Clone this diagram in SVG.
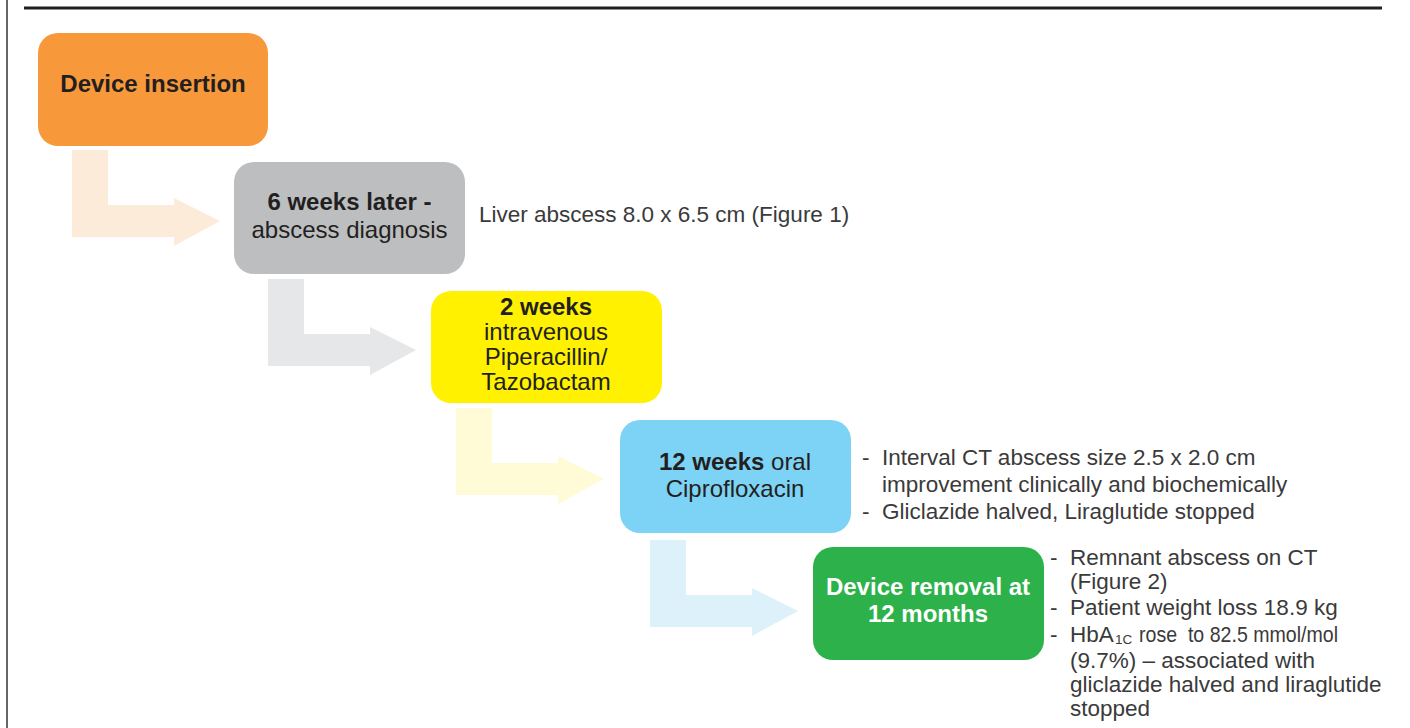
<svg xmlns="http://www.w3.org/2000/svg" xmlns:xlink="http://www.w3.org/1999/xlink" width="1410" height="728" viewBox="0 0 1410 728">
<style>
.node-t{font-family:"Liberation Sans",Arial,sans-serif;font-size:24px;fill:#231F20;text-anchor:middle}
.b{font-weight:bold}
.side{font-family:"Liberation Sans",Arial,sans-serif;font-size:22.5px;fill:#3a3a3a}
.sub{font-family:"Liberation Sans",Arial,sans-serif;font-size:13.5px;fill:#3a3a3a}
</style>
<defs>
<path id="arr" d="M0,0 H36 V55 H102 V48 L148,71 L102,96 V87 H0 Z"/>
</defs>
<rect width="1410" height="728" fill="#ffffff"/>
<line x1="7" y1="0" x2="7" y2="728" stroke="#666666" stroke-width="2"/>
<line x1="24" y1="8" x2="1382" y2="8" stroke="#231F20" stroke-width="3"/>
<g id="connectors">
<use xlink:href="#arr" href="#arr" transform="translate(72,150)" fill="#FDEBD9"/>
<use xlink:href="#arr" href="#arr" transform="translate(268,279)" fill="#E6E7E8"/>
<use xlink:href="#arr" href="#arr" transform="translate(456,408)" fill="#FFFBD6"/>
<use xlink:href="#arr" href="#arr" transform="translate(650,540)" fill="#DDF1FA"/>
</g>
<g id="node-insertion">
<rect x="38" y="33" width="230" height="113" rx="20" fill="#F7993A"/>
<text class="node-t b" x="153" y="92">Device insertion</text>
</g>
<g id="node-diagnosis">
<rect x="234" y="162" width="231" height="112" rx="20" fill="#BCBEC0"/>
<text class="node-t b" x="349.5" y="210">6 weeks later -</text>
<text class="node-t" x="349.5" y="238">abscess diagnosis</text>
</g>
<g id="note-diagnosis">
<text class="side" x="479" y="222">Liver abscess 8.0 x 6.5 cm (Figure 1)</text>
</g>
<g id="node-iv">
<rect x="431" y="291" width="231" height="112" rx="20" fill="#FFF100"/>
<text class="node-t b" x="546" y="315">2 weeks</text>
<text class="node-t" x="546" y="340">intravenous</text>
<text class="node-t" x="546" y="365">Piperacillin/</text>
<text class="node-t" x="546" y="390">Tazobactam</text>
</g>
<g id="node-oral">
<rect x="620" y="420" width="231" height="113" rx="20" fill="#7DD3F5"/>
<text class="node-t" x="735" y="470"><tspan class="b">12 weeks</tspan> oral</text>
<text class="node-t" x="735" y="497">Ciprofloxacin</text>
</g>
<g id="note-oral">
<text class="side" x="862" y="465">-</text>
<text class="side" x="882" y="465">Interval CT abscess size 2.5 x 2.0 cm</text>
<text class="side" x="882" y="492">improvement clinically and biochemically</text>
<text class="side" x="862" y="519">-</text>
<text class="side" x="882" y="519">Gliclazide halved, Liraglutide stopped</text>
</g>
<g id="node-removal">
<rect x="813" y="547" width="231" height="113" rx="20" fill="#2DB24B"/>
<text class="node-t b" x="928" y="595" style="fill:#ffffff">Device removal at</text>
<text class="node-t b" x="928" y="622" style="fill:#ffffff">12 months</text>
</g>
<g id="note-removal">
<text class="side" x="1050" y="565">-</text>
<text class="side" x="1070" y="565">Remnant abscess on CT</text>
<text class="side" x="1070" y="589">(Figure 2)</text>
<text class="side" x="1050" y="615">-</text>
<text class="side" x="1070" y="615">Patient weight loss 18.9 kg</text>
<text class="side" x="1050" y="642">-</text>
<text class="side" x="1070" y="642">HbA</text>
<text class="sub" x="1115" y="644">1C</text>
<text class="side" x="1139" y="642" textLength="199" lengthAdjust="spacingAndGlyphs">rose&#160; to 82.5 mmol/mol</text>
<text class="side" x="1070" y="668">(9.7%) – associated with</text>
<text class="side" x="1070" y="692">gliclazide halved and liraglutide</text>
<text class="side" x="1070" y="716">stopped</text>
</g>
</svg>
